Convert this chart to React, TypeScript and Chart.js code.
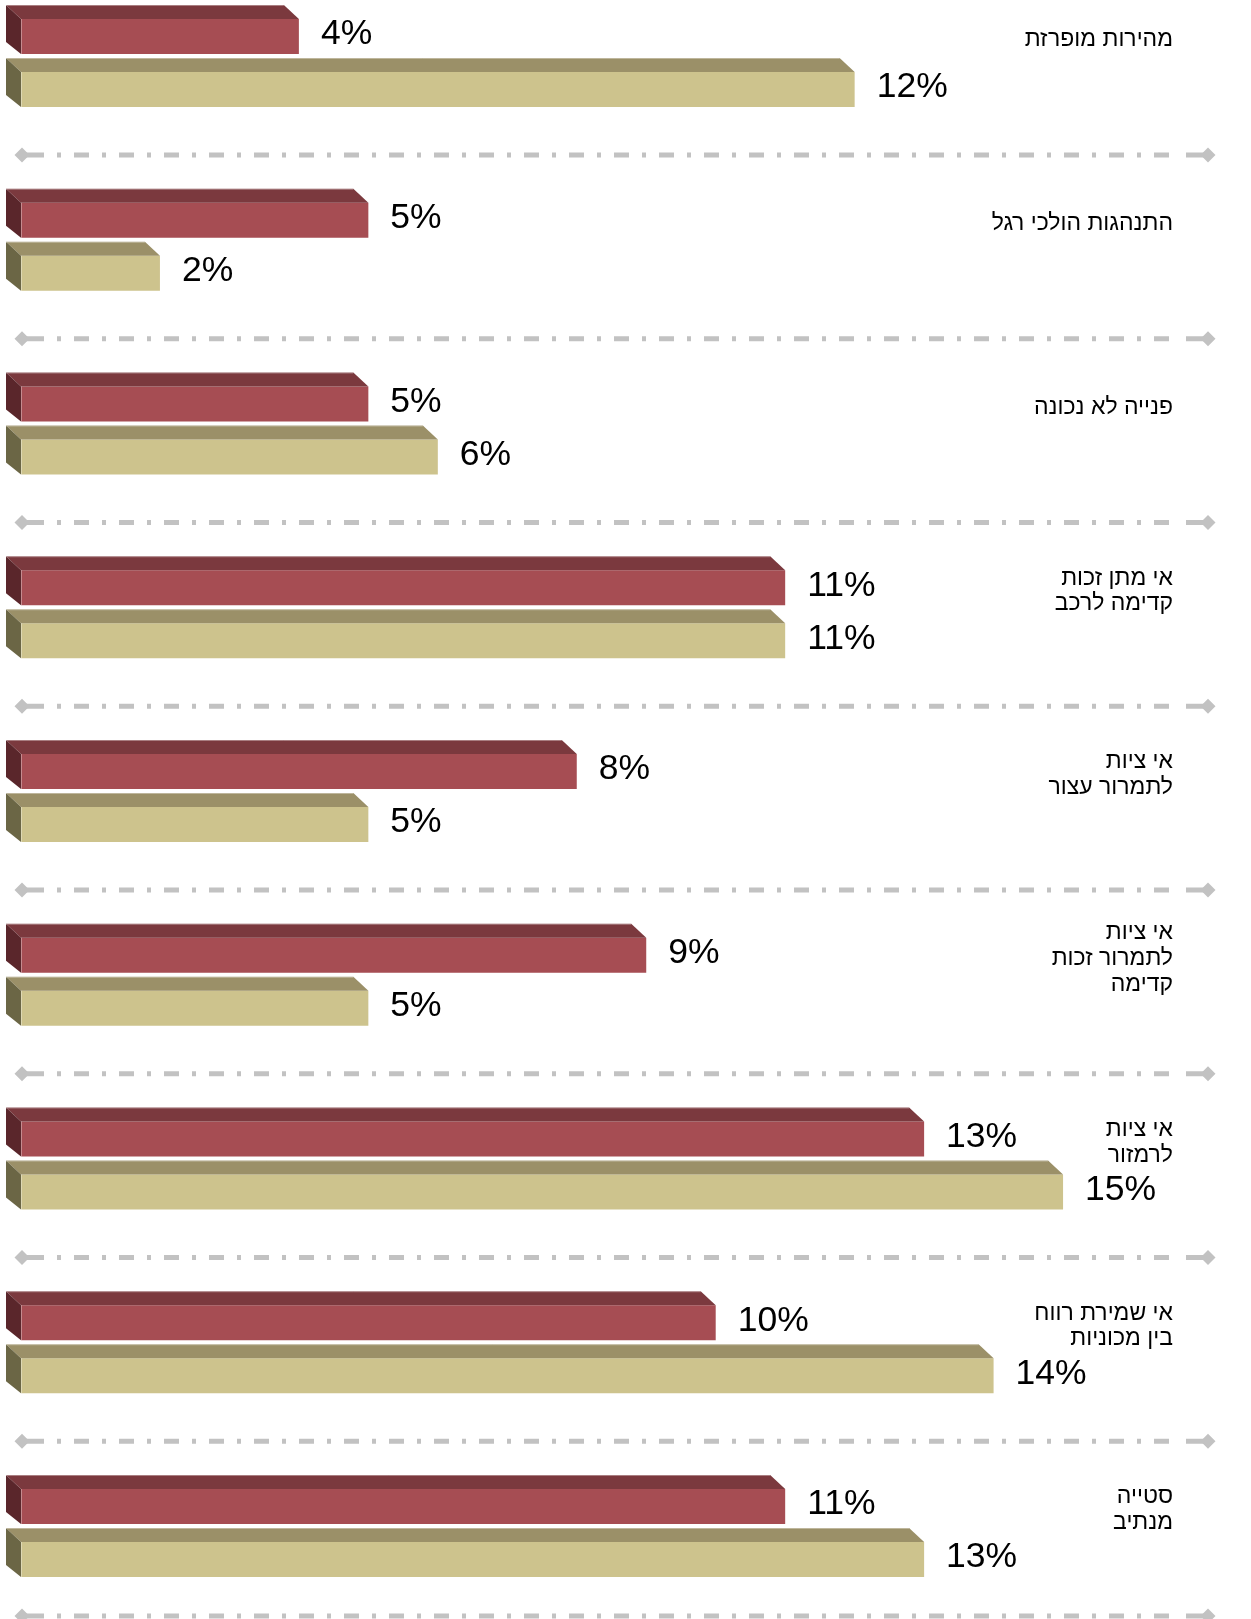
import React, { useEffect, useRef } from "react";
import { Chart, registerables } from "chart.js";

Chart.register(...registerables);

// ---- data ----
const categoryLines: string[][] = [
  ["מהירות מופרזת"],
  ["התנהגות הולכי רגל"],
  ["פנייה לא נכונה"],
  ["אי מתן זכות", "קדימה לרכב"],
  ["אי ציות", "לתמרור עצור"],
  ["אי ציות", "לתמרור זכות", "קדימה"],
  ["אי ציות", "לרמזור"],
  ["אי שמירת רווח", "בין מכוניות"],
  ["סטייה", "מנתיב"],
];
const redValues: number[] = [4, 5, 5, 11, 8, 9, 13, 10, 11];
const tanValues: number[] = [12, 2, 6, 11, 5, 5, 15, 14, 13];

// ---- style ----
const W = 1251;
const H = 1619;
const RED_FRONT = "#A64D53";
const RED_TOP = "#7B393E";
const RED_LEFT = "#5A262B";
const TAN_FRONT = "#CDC38D";
const TAN_TOP = "#9B9068";
const TAN_LEFT = "#6B6645";
const SEP_COLOR = "#C2C2C2";
const VALUE_FONT = "35.5px 'Liberation Sans', 'DejaVu Sans', sans-serif";
const LABEL_FONT = "23px 'Liberation Sans', 'DejaVu Sans', sans-serif";

export default function App() {
  const ref = useRef<HTMLCanvasElement | null>(null);

  useEffect(() => {
    const canvas = ref.current;
    if (!canvas) return;
    const faces = [
      { top: RED_TOP, left: RED_LEFT },
      { top: TAN_TOP, left: TAN_LEFT },
    ];
    const DX = 15;
    const DY_TOP = 14;
    const DY_BOT = 12;

    const decor = {
      id: "decor",
      afterDatasetsDraw(chart: any) {
        const ctx: CanvasRenderingContext2D = chart.ctx;
        const yScale = chart.scales.y;
        const n = chart.data.labels.length;
        const step = yScale.getPixelForValue(1) - yScale.getPixelForValue(0);

        // separators (dash-dot lines with diamond ends)
        const xL = 22;
        const xR = 1208;
        for (let i = 0; i < n; i++) {
          let y = yScale.getPixelForValue(i) + step / 2;
          y = Math.min(y, H - 3);
          ctx.save();
          ctx.strokeStyle = SEP_COLOR;
          ctx.fillStyle = SEP_COLOR;
          ctx.lineWidth = 5;
          ctx.beginPath();
          ctx.moveTo(xL, y);
          ctx.lineTo(xL + 22, y);
          ctx.moveTo(xR - 22, y);
          ctx.lineTo(xR, y);
          ctx.stroke();
          ctx.setLineDash([4, 13, 15, 13]);
          ctx.beginPath();
          ctx.moveTo(xL + 35, y);
          ctx.lineTo(xR - 30, y);
          ctx.stroke();
          ctx.setLineDash([]);
          const d = 7.5;
          for (const cx of [xL, xR]) {
            ctx.beginPath();
            ctx.moveTo(cx - d, y);
            ctx.lineTo(cx, y - d);
            ctx.lineTo(cx + d, y);
            ctx.lineTo(cx, y + d);
            ctx.closePath();
            ctx.fill();
          }
          ctx.restore();
        }

        // 3D faces + value labels
        chart.data.datasets.forEach((ds: any, di: number) => {
          const meta = chart.getDatasetMeta(di);
          meta.data.forEach((bar: any, i: number) => {
            const p = bar.getProps(["x", "y", "base", "height"], true);
            const top = p.y - p.height / 2;
            const bottom = p.y + p.height / 2;
            const x0 = p.base;
            const x1 = p.x;
            ctx.save();
            ctx.fillStyle = faces[di].top;
            ctx.beginPath();
            ctx.moveTo(x0 - DX, top - DY_TOP);
            ctx.lineTo(x1 - DX, top - DY_TOP);
            ctx.lineTo(x1, top);
            ctx.lineTo(x0, top);
            ctx.closePath();
            ctx.fill();
            ctx.fillStyle = faces[di].left;
            ctx.beginPath();
            ctx.moveTo(x0 - DX, top - DY_TOP);
            ctx.lineTo(x0, top);
            ctx.lineTo(x0, bottom);
            ctx.lineTo(x0 - DX, bottom - DY_BOT);
            ctx.closePath();
            ctx.fill();
            ctx.strokeStyle = "rgba(255,255,255,0.35)";
            ctx.lineWidth = 1;
            ctx.beginPath();
            ctx.moveTo(x0 - DX, top - DY_TOP + 0.5);
            ctx.lineTo(x1 - DX, top - DY_TOP + 0.5);
            ctx.moveTo(x0 + 0.5, top);
            ctx.lineTo(x0 + 0.5, bottom);
            ctx.stroke();
            const v = ds.data[i];
            ctx.fillStyle = "#000000";
            ctx.font = VALUE_FONT;
            ctx.textAlign = "left";
            ctx.textBaseline = "middle";
            ctx.fillText(`${Math.round(v)}%`, x1 + 22, p.y - 2);
            ctx.restore();
          });
        });

        // category labels on the right
        ctx.save();
        ctx.font = LABEL_FONT;
        ctx.fillStyle = "#000000";
        ctx.textAlign = "right";
        ctx.textBaseline = "middle";
        (ctx as any).direction = "rtl";
        const lh = 25.8;
        categoryLines.forEach((lines, i) => {
          const cy = yScale.getPixelForValue(i) - 23;
          const y0 = cy - ((lines.length - 1) * lh) / 2;
          lines.forEach((t, k) => {
            ctx.fillText(t, 1173, y0 + k * lh);
          });
        });
        ctx.restore();
      },
    };

    const chart = new Chart(canvas, {
      type: "bar",
      data: {
        labels: categoryLines.map((l) => l.join(" ")),
        datasets: [
          {
            data: redValues,
            backgroundColor: RED_FRONT,
            borderWidth: 0,
            clip: false as any,
          },
          {
            data: tanValues,
            backgroundColor: TAN_FRONT,
            borderWidth: 0,
            clip: false as any,
          },
        ],
      },
      options: {
        indexAxis: "y",
        animation: false,
        responsive: false,
        devicePixelRatio: 1,
        datasets: {
          bar: {
            categoryPercentage: 0.577,
            barPercentage: 0.66,
          },
        },
        layout: {
          padding: { left: 21, right: 49, top: 63, bottom: 86 },
        },
        scales: {
          x: {
            type: "linear",
            min: 0,
            max: 17,
            display: false,
          },
          y: {
            type: "category",
            offset: false,
            display: false,
          },
        },
        plugins: {
          legend: { display: false },
          tooltip: { enabled: false },
          title: { display: false },
        },
      } as any,
      plugins: [decor],
    });
    return () => chart.destroy();
  }, []);

  return (
    <div
      style={{
        position: "absolute",
        left: 0,
        top: 0,
        width: W,
        height: H,
        background: "#ffffff",
      }}
    >
      <canvas ref={ref} width={W} height={H} style={{ width: W, height: H, display: "block" }} />
    </div>
  );
}
